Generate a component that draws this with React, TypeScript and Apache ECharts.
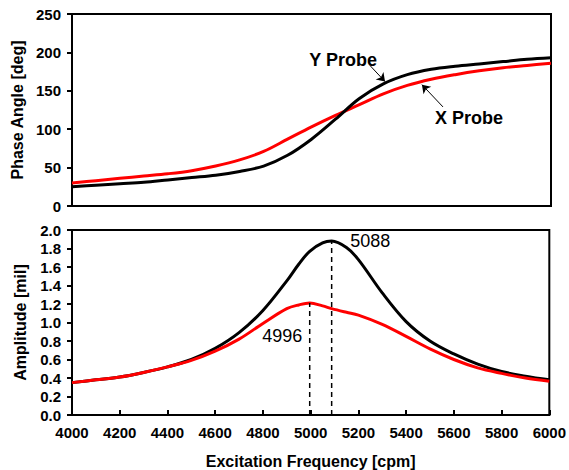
import React, { useEffect, useRef } from "react";
import * as echarts from "echarts";

const phaseFreq = [4000, 4100, 4200, 4300, 4400, 4500, 4600, 4700, 4800, 4900, 5000, 5100, 5200, 5300, 5400, 5500, 5600, 5700, 5800, 5900, 6000];
const phaseY = [25, 27, 29, 31, 34, 37, 40, 45, 52, 66, 87, 113, 140, 159, 171, 178, 182, 185, 188, 191, 193];
const phaseX = [30, 33, 36, 39, 42, 46, 52, 60, 71, 87, 103, 118, 132, 146, 157, 165, 171, 176, 180, 183, 186];

const ampFreq = [4000, 4100, 4200, 4300, 4400, 4500, 4600, 4700, 4800, 4900, 4950, 4996, 5050, 5088, 5150, 5200, 5300, 5400, 5500, 5600, 5700, 5800, 5900, 6000];
const ampY = [0.35, 0.38, 0.41, 0.46, 0.52, 0.6, 0.72, 0.89, 1.13, 1.45, 1.63, 1.77, 1.86, 1.88, 1.81, 1.68, 1.32, 1.01, 0.8, 0.66, 0.55, 0.47, 0.42, 0.38];
const ampX = [0.35, 0.38, 0.41, 0.46, 0.52, 0.59, 0.69, 0.82, 0.99, 1.15, 1.19, 1.21, 1.18, 1.15, 1.11, 1.08, 0.98, 0.85, 0.715, 0.6, 0.51, 0.45, 0.4, 0.365];

const peakY = { freq: 5088, amp: 1.88, label: "5088" };
const peakX = { freq: 4996, amp: 1.21, label: "4996" };

const yProbeLabel = { text: "Y Probe", at: [5132, 190], arrowFrom: [5244, 183], arrowTo: [5307, 162] };
const xProbeLabel = { text: "X Probe", at: [5658, 115], arrowFrom: [5549, 129], arrowTo: [5461, 158] };

const FONT = "Liberation Sans, Arial, sans-serif";

export default function App() {
  const ref = useRef<HTMLDivElement>(null);
  useEffect(() => {
    if (!ref.current) return;
    const chart = echarts.init(ref.current, null, { renderer: "svg" });
    const tickLabel = { color: "#000", fontFamily: FONT, fontWeight: "bold", fontSize: 15 };
    const nameStyle = { color: "#000", fontFamily: FONT, fontWeight: "bold", fontSize: 16 };
    const axisLine = { show: true, lineStyle: { color: "#000", width: 2 } };
    const textMark = (t: any, fs: number, weight: string) => ({
      symbol: "rect",
      symbolSize: 1,
      itemStyle: { color: "rgba(0,0,0,0)" },
      label: {
        show: true,
        position: "inside",
        formatter: t.text,
        color: "#000",
        fontFamily: FONT,
        fontWeight: weight,
        fontSize: fs,
        align: "center",
        verticalAlign: "middle",
      },
      data: [{ coord: t.at }],
    });
    const arrowMark = (t: any) => ({
      silent: true,
      symbol: ["none", "arrow"],
      symbolSize: 8,
      lineStyle: { color: "#000", width: 1, type: "solid" },
      label: { show: false },
      data: [[{ coord: t.arrowFrom }, { coord: t.arrowTo }]],
    });
    const smooth = 0.35;
    chart.setOption({
      animation: false,
      grid: [
        { left: 72, top: 14, right: 18, height: 192, show: true, borderColor: "#000", borderWidth: 2, containLabel: false },
        { left: 72, top: 230, right: 18, height: 192, show: true, borderColor: "#000", borderWidth: 2, containLabel: false },
      ],
      xAxis: [
        {
          type: "value", gridIndex: 0, min: 4000, max: 6000, interval: 200,
          axisLine, axisTick: { show: false }, axisLabel: { show: false }, splitLine: { show: false },
        },
        {
          type: "value", gridIndex: 1, min: 4000, max: 6000, interval: 200,
          axisLine, axisTick: { show: true, inside: true, length: 5, lineStyle: { color: "#000", width: 2 } },
          axisLabel: { ...tickLabel, margin: 10, formatter: (v: number) => String(v) }, splitLine: { show: false },
          name: "Excitation Frequency [cpm]", nameLocation: "middle", nameGap: 38, nameTextStyle: nameStyle,
        },
      ],
      yAxis: [
        {
          type: "value", gridIndex: 0, min: 0, max: 250, interval: 50,
          axisLine, axisTick: { show: true, inside: false, length: 5, lineStyle: { color: "#000", width: 2 } },
          axisLabel: { ...tickLabel, margin: 11 }, splitLine: { show: false },
          name: "Phase Angle [deg]", nameLocation: "middle", nameGap: 46, nameTextStyle: nameStyle,
        },
        {
          type: "value", gridIndex: 1, min: 0, max: 2, interval: 0.2,
          axisLine, axisTick: { show: true, inside: false, length: 5, lineStyle: { color: "#000", width: 2 } },
          axisLabel: { ...tickLabel, margin: 11, formatter: (v: number) => v.toFixed(1) }, splitLine: { show: false },
          name: "Amplitude [mil]", nameLocation: "middle", nameGap: 44, nameTextStyle: nameStyle,
        },
      ],
      series: [
        {
          type: "line", xAxisIndex: 0, yAxisIndex: 0, showSymbol: false, smooth,
          data: phaseFreq.map((f, i) => [f, phaseY[i]]),
          lineStyle: { color: "#000", width: 3 }, itemStyle: { color: "#000" },
          markLine: arrowMark(yProbeLabel),
          markPoint: textMark(yProbeLabel, 18, "bold"),
          z: 3,
        },
        {
          type: "line", xAxisIndex: 0, yAxisIndex: 0, showSymbol: false, smooth,
          data: phaseFreq.map((f, i) => [f, phaseX[i]]),
          lineStyle: { color: "#ff0000", width: 3 }, itemStyle: { color: "#ff0000" },
          markLine: arrowMark(xProbeLabel),
          markPoint: textMark(xProbeLabel, 18, "bold"),
          z: 2,
        },
        {
          type: "line", xAxisIndex: 1, yAxisIndex: 1, showSymbol: false, smooth,
          data: ampFreq.map((f, i) => [f, ampY[i]]),
          lineStyle: { color: "#000", width: 3 }, itemStyle: { color: "#000" },
          z: 3,
        },
        {
          type: "line", xAxisIndex: 1, yAxisIndex: 1, showSymbol: false, smooth,
          data: ampFreq.map((f, i) => [f, ampX[i]]),
          lineStyle: { color: "#ff0000", width: 3 }, itemStyle: { color: "#ff0000" },
          z: 4,
        },
        {
          type: "line", xAxisIndex: 1, yAxisIndex: 1, showSymbol: false,
          data: [[peakY.freq, 0], [peakY.freq, peakY.amp]],
          lineStyle: { color: "#000", width: 1.5, type: [5, 4] }, itemStyle: { color: "#000" },
          markPoint: {
            symbol: "rect", symbolSize: 1, itemStyle: { color: "rgba(0,0,0,0)" },
            label: { show: true, position: "right", distance: 18, formatter: peakY.label, color: "#000", fontFamily: FONT, fontSize: 18 },
            data: [{ coord: [peakY.freq, peakY.amp] }],
          },
          z: 5,
        },
        {
          type: "line", xAxisIndex: 1, yAxisIndex: 1, showSymbol: false,
          data: [[peakX.freq, 0], [peakX.freq, peakX.amp]],
          lineStyle: { color: "#000", width: 1.5, type: [5, 4] }, itemStyle: { color: "#000" },
          markPoint: {
            symbol: "rect", symbolSize: 1, itemStyle: { color: "rgba(0,0,0,0)" },
            label: { show: true, position: "left", distance: 7, offset: [0, 33], formatter: peakX.label, color: "#000", fontFamily: FONT, fontSize: 18 },
            data: [{ coord: [peakX.freq, peakX.amp] }],
          },
          z: 5,
        },
      ],
    });
    return () => chart.dispose();
  }, []);
  return <div ref={ref} style={{ width: 569, height: 470, position: "absolute", left: 0, top: 0, background: "#fff" }} />;
}
